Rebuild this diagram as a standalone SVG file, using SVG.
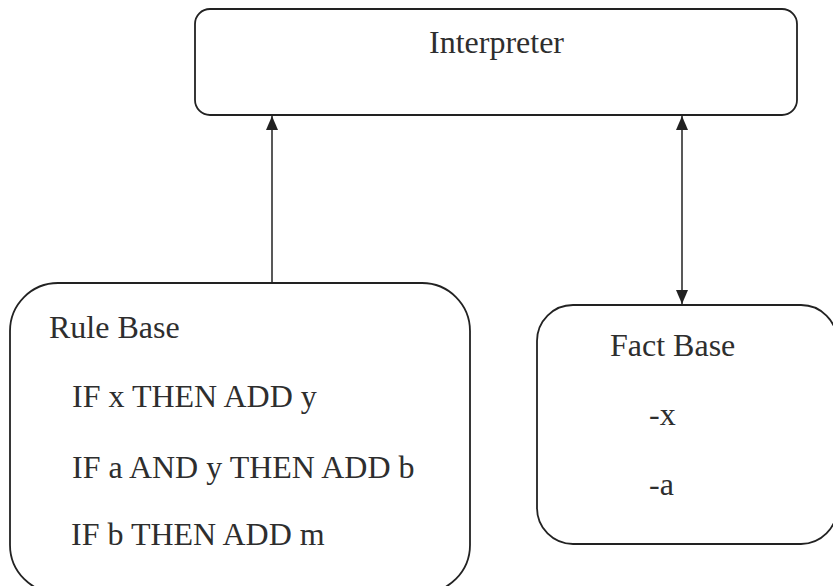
<svg xmlns="http://www.w3.org/2000/svg" width="833" height="586" viewBox="0 0 833 586">
  <style>
    .box { fill: none; stroke: #222; stroke-width: 1.8; }
    .lbl { font-family: "Liberation Serif", "Times New Roman", serif; font-size: 32px; fill: #2e2e2e; }
    .link { stroke: #222; stroke-width: 1.5; fill: none; }
  </style>
  <defs>
    <marker id="head" viewBox="0 0 14 12" refX="14" refY="6" markerWidth="14" markerHeight="12" markerUnits="userSpaceOnUse" orient="auto-start-reverse">
      <path d="M0,0 L14,6 L0,12 z" fill="#222"/>
    </marker>
  </defs>

  <rect width="833" height="586" fill="#ffffff"/>

  <g id="interpreter">
    <rect class="box" x="195" y="9" width="602" height="106" rx="15" ry="15"/>
    <text class="lbl" x="429" y="53">Interpreter</text>
  </g>

  <g id="rule-base">
    <rect class="box" x="10" y="283" width="460" height="310" rx="48" ry="48"/>
    <text class="lbl" x="49" y="338">Rule Base</text>
    <text class="lbl" x="72" y="407">IF x THEN ADD y</text>
    <text class="lbl" x="72" y="478">IF a AND y THEN ADD b</text>
    <text class="lbl" x="71" y="545">IF b THEN ADD m</text>
  </g>

  <g id="fact-base">
    <rect class="box" x="537" y="305" width="300" height="239" rx="36" ry="36"/>
    <text class="lbl" x="610" y="356">Fact Base</text>
    <text class="lbl" x="649" y="425">-x</text>
    <text class="lbl" x="649" y="495">-a</text>
  </g>

  <g id="connectors">
    <line class="link" x1="272" y1="283" x2="272" y2="116" marker-end="url(#head)"/>
    <line class="link" x1="682" y1="116" x2="682" y2="304" marker-start="url(#head)" marker-end="url(#head)"/>
  </g>
</svg>
